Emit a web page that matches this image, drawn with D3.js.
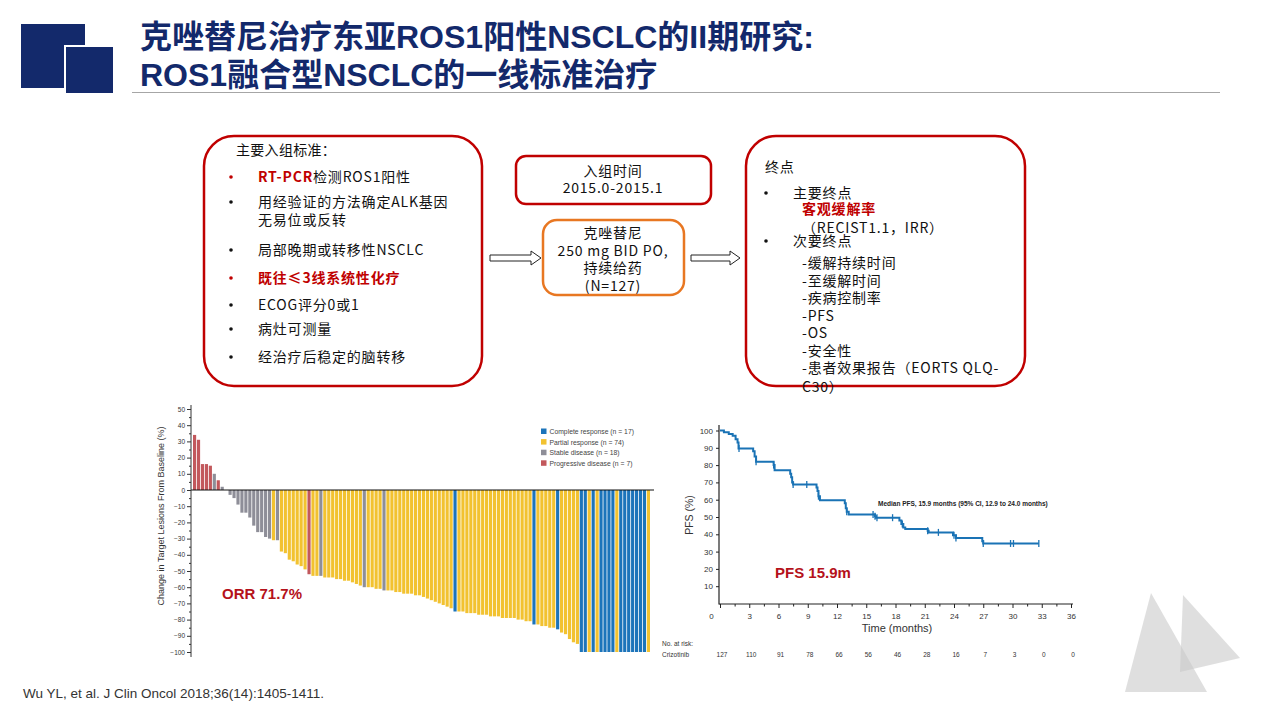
<!DOCTYPE html>
<html>
<head>
<meta charset="utf-8">
<script src="https://cdn.jsdelivr.net/npm/d3@7"></script>
<style>
  body { margin: 0; background: #fff; }
  svg { display: block; }
</style>
</head>
<body>
<svg width="1280" height="720"></svg>
<script>
// ---- slide text ----
const titleLines = ['克唑替尼治疗东亚ROS1阳性NSCLC的II期研究:', 'ROS1融合型NSCLC的一线标准治疗'];
const inclusionHead = '主要入组标准：';
const inclusionItems = [
  { bullet: true, red: true, parts: [['RT-PCR', true], ['检测ROS1阳性', false]] },
  { bullet: true, parts: [['用经验证的方法确定ALK基因', false]] },
  { bullet: false, parts: [['无易位或反转', false]] },
  { bullet: true, parts: [['局部晚期或转移性NSCLC', false]] },
  { bullet: true, red: true, parts: [['既往≤3线系统性化疗', true]] },
  { bullet: true, parts: [['ECOG评分0或1', false]] },
  { bullet: true, parts: [['病灶可测量', false]] },
  { bullet: true, parts: [['经治疗后稳定的脑转移', false]] }];
const enrolLines = ['入组时间', '2015.0-2015.1'];
const drugLines = ['克唑替尼', '250 mg BID PO,', '持续给药', '(N=127)'];
const endpointLines = [
  { text: '终点', indent: 0 },
  { text: '主要终点', indent: 1, bullet: true },
  { text: '客观缓解率', indent: 2, red: true },
  { text: '（RECIST1.1，IRR）', indent: 2 },
  { text: '次要终点', indent: 1, bullet: true },
  { text: '-缓解持续时间', indent: 2 },
  { text: '-至缓解时间', indent: 2 },
  { text: '-疾病控制率', indent: 2 },
  { text: '-PFS', indent: 2 },
  { text: '-OS', indent: 2 },
  { text: '-安全性', indent: 2 },
  { text: '-患者效果报告（EORTS QLQ-', indent: 2 },
  { text: 'C30）', indent: 2 }];
const citation = 'Wu YL, et al. J Clin Oncol 2018;36(14):1405-1411.';

// ---- waterfall data (best % change, response category) ----
const wfValues = [
  34, 31, 16, 16, 15, 10, 6, 2, 0,
  -3, -5, -9, -14, -14, -17, -22, -26, -26, -29, -30,
  -31, -31,
  -38, -39, -43, -44, -46, -47, -49,
  -52, -53, -53, -53,
  -54, -54, -54, -55, -55, -56, -56, -57, -58, -59,
  -60, -60, -60, -61, -61, -62,
  -62, -62, -63, -63, -64, -64, -64, -65, -65, -66, -67, -68, -69, -70, -71, -72, -73,
  -75,
  -75, -75, -76, -76, -76, -77, -77, -77, -78, -78, -78, -79, -79, -79, -79, -80, -80, -81, -81,
  -83, -83, -84, -84, -85, -85, -86,
  -88, -89, -92, -94, -95,
  -100, -100, -100, -100, -100, -100, -100, -100, -100, -100, -100, -100, -100, -100, -100, -100, -100, -100];
const wfGroups = [
  'PD', 'PD', 'PD', 'PD', 'PD', 'SD', 'PD', 'SD', 'SD',
  'SD', 'SD', 'SD', 'SD', 'SD', 'SD', 'SD', 'SD', 'SD', 'SD', 'SD',
  'PR', 'SD',
  'PR', 'PR', 'PR', 'PR', 'PR', 'PR', 'PR',
  'PD', 'PR', 'PR', 'SD',
  'PR', 'PR', 'PR', 'PR', 'PR', 'PR', 'PR', 'PR', 'PR', 'PR',
  'SD', 'PR', 'PR', 'PR', 'PR', 'SD',
  'PR', 'PR', 'PR', 'PR', 'PR', 'PR', 'PR', 'PR', 'PR', 'PR', 'PR', 'PR', 'PR', 'PR', 'PR', 'PR', 'PR',
  'CR',
  'PR', 'PR', 'PR', 'PR', 'PR', 'PR', 'PR', 'PR', 'PR', 'PR', 'PR', 'PR', 'PR', 'PR', 'PR', 'PR', 'PR', 'PR', 'PR',
  'CR', 'PR', 'PR', 'PR', 'PR', 'PR', 'CR',
  'PR', 'PR', 'PR', 'PR', 'PR',
  'CR', 'CR', 'PR', 'CR', 'PR', 'CR', 'CR', 'CR', 'CR', 'PR', 'CR', 'CR', 'CR', 'CR', 'CR', 'CR', 'CR', 'PR'];
const wfLegendKeys = ['CR', 'PR', 'SD', 'PD'];
const wfLegendLabels = ['Complete response (n = 17)', 'Partial response (n = 74)', 'Stable disease (n = 18)', 'Progressive disease (n = 7)'];
const wfTicks = [50, 40, 30, 20, 10, 0, -10, -20, -30, -40, -50, -60, -70, -80, -90, -100];

// ---- PFS Kaplan-Meier data ----
const kmTime = [0, 0.4, 0.9, 1.3, 1.6, 1.8, 1.9, 3.4, 3.55, 3.7, 5.5, 5.6, 7.2, 7.3, 7.4, 7.5, 9.9, 10.0, 10.1, 10.25,
  12.8, 12.9, 13.0, 13.2, 15.9, 16.0, 18.4, 18.6, 18.8, 19.0, 21.3, 21.4, 23.9, 24.2, 26.9, 27.0, 32.7];
const kmSurv = [100, 99, 98, 97, 95, 93, 89.6, 88, 85, 82, 80, 77, 75, 73, 70, 68.8, 67, 65, 62, 59.7,
  58, 55, 53, 51.4, 50.5, 49.6, 48, 46, 44, 43, 42, 41.1, 39.5, 37.9, 36, 34.7, 34.7];
const kmCensor = [1.95, 3.7, 5.5, 7.5, 8.9, 10.1, 13.0, 15.7, 15.9, 16.1, 17.7, 18.7, 21.3, 22.4, 24.0, 24.2, 27.0, 29.8, 30.1, 32.7];
const pfsXTicks = [0, 3, 6, 9, 12, 15, 18, 21, 24, 27, 30, 33, 36];
const pfsYTicks = [10, 20, 30, 40, 50, 60, 70, 80, 90, 100];
const atRisk = [127, 110, 91, 78, 66, 56, 46, 28, 16, 7, 3, 0, 0];

const NAVY = '#13296b';
const RED = '#c00000';
const CJK = '"Noto Sans CJK SC", "Noto Sans", sans-serif';
const ARIAL = '"Liberation Sans", Arial, sans-serif';
const groupColor = { CR: '#1c74ba', PR: '#f2c230', SD: '#8e8e98', PD: '#c2585c' };

const svg = d3.select('svg');

/* --HEADER-- */
svg.append('rect').attr('x', 21).attr('y', 24).attr('width', 64).attr('height', 64).attr('fill', NAVY);
svg.append('rect').attr('x', 64).attr('y', 45).attr('width', 51).attr('height', 50).attr('fill', '#fff');
svg.append('rect').attr('x', 66).attr('y', 47).attr('width', 47).attr('height', 46).attr('fill', NAVY);

svg.selectAll('text.title').
data(titleLines).
enter().
append('text').
attr('class', 'title').
attr('x', 140).
attr('y', (d, i) => 48 + i * 38).
attr('font-family', '"Liberation Sans", "Noto Sans CJK SC", sans-serif').
attr('font-weight', 'bold').
attr('font-size', 32).
attr('fill', NAVY).
text(d => d);

svg.append('line').attr('x1', 132).attr('x2', 1220).attr('y1', 92.5).attr('y2', 92.5).
attr('stroke', '#a6a6a6').attr('stroke-width', 1);

/* --BOXES-- */
function roundBox(x, y, w, h, r, color) {
  svg.append('rect').attr('x', x).attr('y', y).attr('width', w).attr('height', h).
  attr('rx', r).attr('ry', r).attr('fill', 'none').attr('stroke', color).attr('stroke-width', 2.5);
}
roundBox(204, 136, 278, 250, 30, RED);
roundBox(516, 156, 195, 48, 10, RED);
roundBox(543, 220, 141, 75, 14, '#e87722');
roundBox(746, 136, 279, 250, 30, RED);

const body = svg.append('g').attr('font-family', CJK).attr('font-size', 14).
attr('letter-spacing', 0.8).attr('fill', '#111');

body.append('text').attr('x', 236).attr('y', 155).attr('letter-spacing', 0.3).text(inclusionHead);
const incY = [182, 207, 225, 255, 283, 310, 334, 362];
inclusionItems.forEach((item, i) => {
  if (item.bullet) {
    body.append('circle').attr('cx', 231).attr('cy', incY[i] - 5).attr('r', 1.8).attr('fill', item.red ? RED : '#111');
  }
  const t = body.append('text').attr('x', 258).attr('y', incY[i]);
  item.parts.forEach(p => {
    t.append('tspan').text(p[0]).
    attr('fill', p[1] ? RED : '#111').
    attr('font-weight', p[1] ? 'bold' : 'normal');
  });
});

body.selectAll('text.enrol').data(enrolLines).enter().append('text').
attr('class', 'enrol').attr('x', 613).attr('y', (d, i) => 176 + i * 17).
attr('text-anchor', 'middle').text(d => d);

body.selectAll('text.drug').data(drugLines).enter().append('text').
attr('class', 'drug').attr('x', 613).attr('y', (d, i) => 238 + i * 17.7).
attr('text-anchor', 'middle').text(d => d);

const epY = [172, 198, 214, 233, 246, 268, 286, 303, 321, 338, 356, 373, 392];
const epX = [765, 793, 802];
endpointLines.forEach((d, i) => {
  if (d.bullet) body.append('circle').attr('cx', 766).attr('cy', epY[i] - 5).attr('r', 1.8).attr('fill', '#111');
  body.append('text').attr('x', epX[d.indent]).attr('y', epY[i]).
  attr('fill', d.red ? RED : '#111').attr('font-weight', d.red ? 'bold' : 'normal').text(d.text);
});

// hollow block arrows
function blockArrow(x0, x1, yc) {
  const pts = [[x0, yc - 3], [x1 - 10, yc - 3], [x1 - 10, yc - 7], [x1, yc], [x1 - 10, yc + 7], [x1 - 10, yc + 3], [x0, yc + 3]];
  svg.append('path').attr('d', d3.line()(pts) + 'Z').attr('fill', '#fff').attr('stroke', '#222').attr('stroke-width', 1);
}
blockArrow(490, 541, 258);
blockArrow(691, 740, 258);

/* --WATERFALL-- */
const wf = svg.append('g').attr('font-family', ARIAL);
const wfX = d3.scaleBand().domain(d3.range(wfValues.length)).range([193, 650]).paddingInner(0.2).paddingOuter(0);
const wfY = d3.scaleLinear().domain([-100, 50]).range([652, 409]);

wf.selectAll('rect.bar').
data(wfValues).
enter().
append('rect').
attr('class', 'bar').
attr('x', (d, i) => wfX(i)).
attr('y', d => wfY(Math.max(0, d))).
attr('width', wfX.bandwidth()).
attr('height', d => Math.abs(wfY(d) - wfY(0))).
attr('fill', (d, i) => groupColor[wfGroups[i]]);

wf.append('line').attr('x1', 191).attr('x2', 654).attr('y1', wfY(0)).attr('y2', wfY(0)).
attr('stroke', '#111').attr('stroke-width', 1.2);

const wfAxis = wf.append('g').attr('transform', 'translate(191,0)').
call(d3.axisLeft(wfY).tickValues(wfTicks).tickSize(4).tickPadding(2));
wfAxis.append('g').call(d3.axisLeft(wfY).tickValues(d3.range(-95, 50, 10)).tickSize(2).tickFormat(''));
wf.selectAll('.domain').remove();
wf.append('line').attr('x1', 191).attr('x2', 191).attr('y1', 405).attr('y2', 657).attr('stroke', '#333');
wfAxis.selectAll('line').attr('stroke', '#333');
wfAxis.selectAll('text').attr('font-size', 6.5).attr('fill', '#333').attr('font-family', ARIAL);

wf.append('text').attr('transform', 'translate(164,516) rotate(-90)').
attr('text-anchor', 'middle').attr('font-size', 9).attr('fill', '#333').
text('Change in Target Lesions From Baseline (%)');

const wfLeg = wf.append('g').attr('font-size', 6.8).attr('fill', '#444');
wfLegendKeys.forEach((k, i) => {
  wfLeg.append('rect').attr('x', 541).attr('y', 428.5 + i * 10.6).attr('width', 5.5).attr('height', 5.5).attr('fill', groupColor[k]);
  wfLeg.append('text').attr('x', 549.5).attr('y', 434 + i * 10.6).text(wfLegendLabels[i]);
});

wf.append('text').attr('x', 222).attr('y', 599).attr('font-size', 15).attr('font-weight', 'bold').
attr('fill', '#b5121b').text('ORR 71.7%');

/* --PFS KM-- */
const km = svg.append('g').attr('font-family', ARIAL);
const kmX = d3.scaleLinear().domain([0, 36]).range([720, 1071]);
const kmY = d3.scaleLinear().domain([0, 100]).range([603.5, 430.5]);

const xAx = km.append('g').attr('transform', 'translate(0,604)').
call(d3.axisBottom(kmX).tickValues(pfsXTicks).tickSize(4).tickPadding(5));
xAx.append('g').call(d3.axisBottom(kmX).tickValues(d3.range(1.5, 36, 3)).tickSize(2.5).tickFormat(''));
xAx.selectAll('text').attr('font-size', 8).attr('fill', '#333').attr('font-family', ARIAL);
xAx.selectAll('.tick text').filter(d => d === 0).attr('dx', -9);
const yAx = km.append('g').attr('transform', 'translate(719,0)').
call(d3.axisLeft(kmY).tickValues(pfsYTicks).tickSize(3).tickPadding(3));
yAx.selectAll('text').attr('font-size', 8).attr('fill', '#333').attr('font-family', ARIAL);
km.selectAll('.domain').remove();
km.selectAll('.tick line').attr('stroke', '#222');
km.append('line').attr('x1', 719).attr('x2', 719).attr('y1', 425).attr('y2', 604.5).attr('stroke', '#222').attr('stroke-width', 1.2);
km.append('line').attr('x1', 719).attr('x2', 1073).attr('y1', 604).attr('y2', 604).attr('stroke', '#222').attr('stroke-width', 1.2);

const kmPts = kmTime.map((t, i) => [kmX(t), kmY(kmSurv[i])]);
km.append('path').attr('d', d3.line().curve(d3.curveStepAfter)(kmPts)).
attr('fill', 'none').attr('stroke', '#1a73b5').attr('stroke-width', 2);

function survAt(t) {
  let s = kmSurv[0];
  kmTime.forEach((tt, i) => { if (tt <= t) s = kmSurv[i]; });
  return s;
}
km.selectAll('line.cens').data(kmCensor).enter().append('line').attr('class', 'cens').
attr('x1', d => kmX(d)).attr('x2', d => kmX(d)).
attr('y1', d => kmY(survAt(d)) - 3.5).attr('y2', d => kmY(survAt(d)) + 3.5).
attr('stroke', '#1a73b5').attr('stroke-width', 1.3);

km.append('text').attr('x', 878).attr('y', 505.5).attr('font-size', 6.5).attr('font-weight', 'bold').
attr('fill', '#222').text('Median PFS, 15.9 months (95% CI, 12.9 to 24.0 months)');

km.append('text').attr('x', 897).attr('y', 632).attr('text-anchor', 'middle').attr('font-size', 11).
attr('fill', '#333').text('Time (months)');
km.append('text').attr('transform', 'translate(693,515) rotate(-90)').attr('text-anchor', 'middle').
attr('font-size', 10.5).attr('fill', '#333').text('PFS (%)');

km.append('text').attr('x', 662).attr('y', 645.5).attr('font-size', 6.5).attr('fill', '#333').text('No. at risk:');
km.append('text').attr('x', 662).attr('y', 656.5).attr('font-size', 6.5).attr('fill', '#333').text('Crizotinib');
km.selectAll('text.risk').data(atRisk).enter().append('text').attr('class', 'risk').
attr('x', (d, i) => kmX(pfsXTicks[i]) + 2).attr('y', 656.5).attr('text-anchor', 'middle').
attr('font-size', 6.5).attr('fill', '#333').text(d => d);

km.append('text').attr('x', 775).attr('y', 578).attr('font-size', 15).attr('font-weight', 'bold').
attr('fill', '#b5121b').text('PFS 15.9m');

/* --FOOTER-- */
svg.append('text').attr('x', 23).attr('y', 697.5).attr('font-family', ARIAL).attr('font-size', 13.5).
attr('fill', '#333').text(citation);

svg.append('path').attr('d', 'M1151,593L1125,692L1207,692Z').attr('fill', '#c9c9c9').attr('opacity', 0.6);
svg.append('path').attr('d', 'M1183,595L1180,672L1240,658Z').attr('fill', '#c9c9c9').attr('opacity', 0.6);
</script>
</body>
</html>
